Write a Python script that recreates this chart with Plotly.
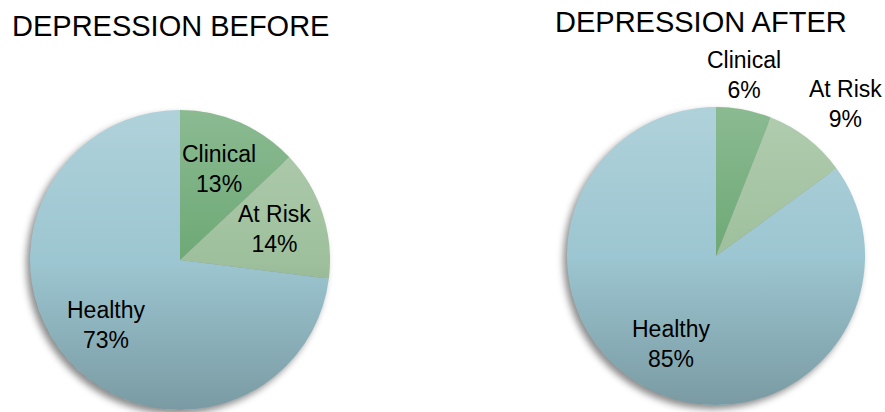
import math
import base64
import plotly.graph_objects as go

categories = ["Clinical", "At Risk", "Healthy"]
before_values = [13, 14, 73]
after_values = [6, 9, 85]
titles = ["DEPRESSION BEFORE", "DEPRESSION AFTER"]

W, H = 885, 412
colors = ["#6ea976", "#9ec09c", "#9cc6d1"]
FONT = "Arial, 'Liberation Sans', sans-serif"
LABEL_SIZE = 23

# pie domains (pixel boxes -> paper fractions)
dom_before = dict(x=[30 / W, 330 / W], y=[2 / H, 302 / H])
dom_after = dict(x=[567 / W, 865 / W], y=[7 / H, 305 / H])
# which labels sit outside the pie
outside_before = [False, False, False]
outside_after = [True, True, False]


def svg_uri(svg):
    return "data:image/svg+xml;base64," + base64.b64encode(svg.encode()).decode()


GRAD_SVG = svg_uri(
    '<svg xmlns="http://www.w3.org/2000/svg" viewBox="0 0 100 100" width="300" height="300">'
    '<defs><linearGradient id="g" x1="0" y1="0" x2="0" y2="1">'
    '<stop offset="0" stop-color="#ffffff" stop-opacity="0.2"/>'
    '<stop offset="0.5" stop-color="#ffffff" stop-opacity="0"/>'
    '<stop offset="0.5" stop-color="#000000" stop-opacity="0"/>'
    '<stop offset="1" stop-color="#000000" stop-opacity="0.22"/>'
    '</linearGradient></defs>'
    '<circle cx="50" cy="50" r="50" fill="url(#g)"/></svg>'
)
SHADOW_SVG = svg_uri(
    '<svg xmlns="http://www.w3.org/2000/svg" viewBox="-10 -10 120 120" width="360" height="360">'
    '<defs><filter id="b" x="-20%" y="-20%" width="140%" height="140%">'
    '<feGaussianBlur stdDeviation="1.3"/></filter></defs>'
    '<circle cx="48.8" cy="51.4" r="50" fill="#000000" fill-opacity="0.45" filter="url(#b)"/></svg>'
)


def labels_for(values, dom, outside):
    x0, x1 = dom["x"][0] * W, dom["x"][1] * W
    y0, y1 = dom["y"][0] * H, dom["y"][1] * H
    cx, cy = (x0 + x1) / 2, (y0 + y1) / 2
    r = min(x1 - x0, y1 - y0) / 2
    total = sum(values)
    anns = []
    cum = 0
    for lab, v, out in zip(categories, values, outside):
        theta = 2 * math.pi * (cum + v / 2) / total
        cum += v
        s, c = math.sin(theta), math.cos(theta)
        pct = f"{round(100 * v / total)}%"
        if out:
            d = r + 2
            xa = "center" if s < 0.3 else "left"
            ya = "bottom"
            ys = 5
        else:
            d = 0.66 * r
            xa, ya = "center", "middle"
            ys = 0
        anns.append(dict(
            text=f"{lab}<br>{pct}", x=(cx + d * s) / W, y=(cy + d * c) / H,
            xref="paper", yref="paper", xanchor=xa, yanchor=ya, showarrow=False,
            yshift=ys, borderpad=0, borderwidth=0,
            align="center", font=dict(family=FONT, size=LABEL_SIZE, color="#000000"),
        ))
    return anns


fig = go.Figure()
for vals, dom in [(before_values, dom_before), (after_values, dom_after)]:
    fig.add_trace(go.Pie(
        labels=categories, values=vals,
        sort=False, direction="clockwise", rotation=0,
        marker=dict(colors=colors, line=dict(width=0)),
        textinfo="none",
        domain=dom, showlegend=False, hoverinfo="label+percent",
    ))

images = []
for dom in [dom_before, dom_after]:
    w = dom["x"][1] - dom["x"][0]
    h = dom["y"][1] - dom["y"][0]
    images.append(dict(source=GRAD_SVG, xref="paper", yref="paper",
                       x=dom["x"][0], y=dom["y"][1], sizex=w, sizey=h,
                       xanchor="left", yanchor="top", sizing="stretch", layer="above"))
    images.append(dict(source=SHADOW_SVG, xref="paper", yref="paper",
                       x=dom["x"][0] - 0.1 * w, y=dom["y"][1] + 0.1 * h,
                       sizex=1.2 * w, sizey=1.2 * h,
                       xanchor="left", yanchor="top", sizing="stretch", layer="below"))

annotations = [
    dict(text=titles[0], x=10 / W, y=1 - 8 / H, xref="paper", yref="paper",
         xanchor="left", yanchor="top", showarrow=False,
         font=dict(family=FONT, size=29, color="#000000")),
    dict(text=titles[1], x=553 / W, y=1 - 4 / H, xref="paper", yref="paper",
         xanchor="left", yanchor="top", showarrow=False,
         font=dict(family=FONT, size=29, color="#000000")),
]
annotations += labels_for(before_values, dom_before, outside_before)
annotations += labels_for(after_values, dom_after, outside_after)

fig.update_layout(
    width=W, height=H,
    margin=dict(l=0, r=0, t=0, b=0),
    paper_bgcolor="#ffffff", plot_bgcolor="#ffffff",
    annotations=annotations,
    images=images,
)

fig.write_html("out.html")
